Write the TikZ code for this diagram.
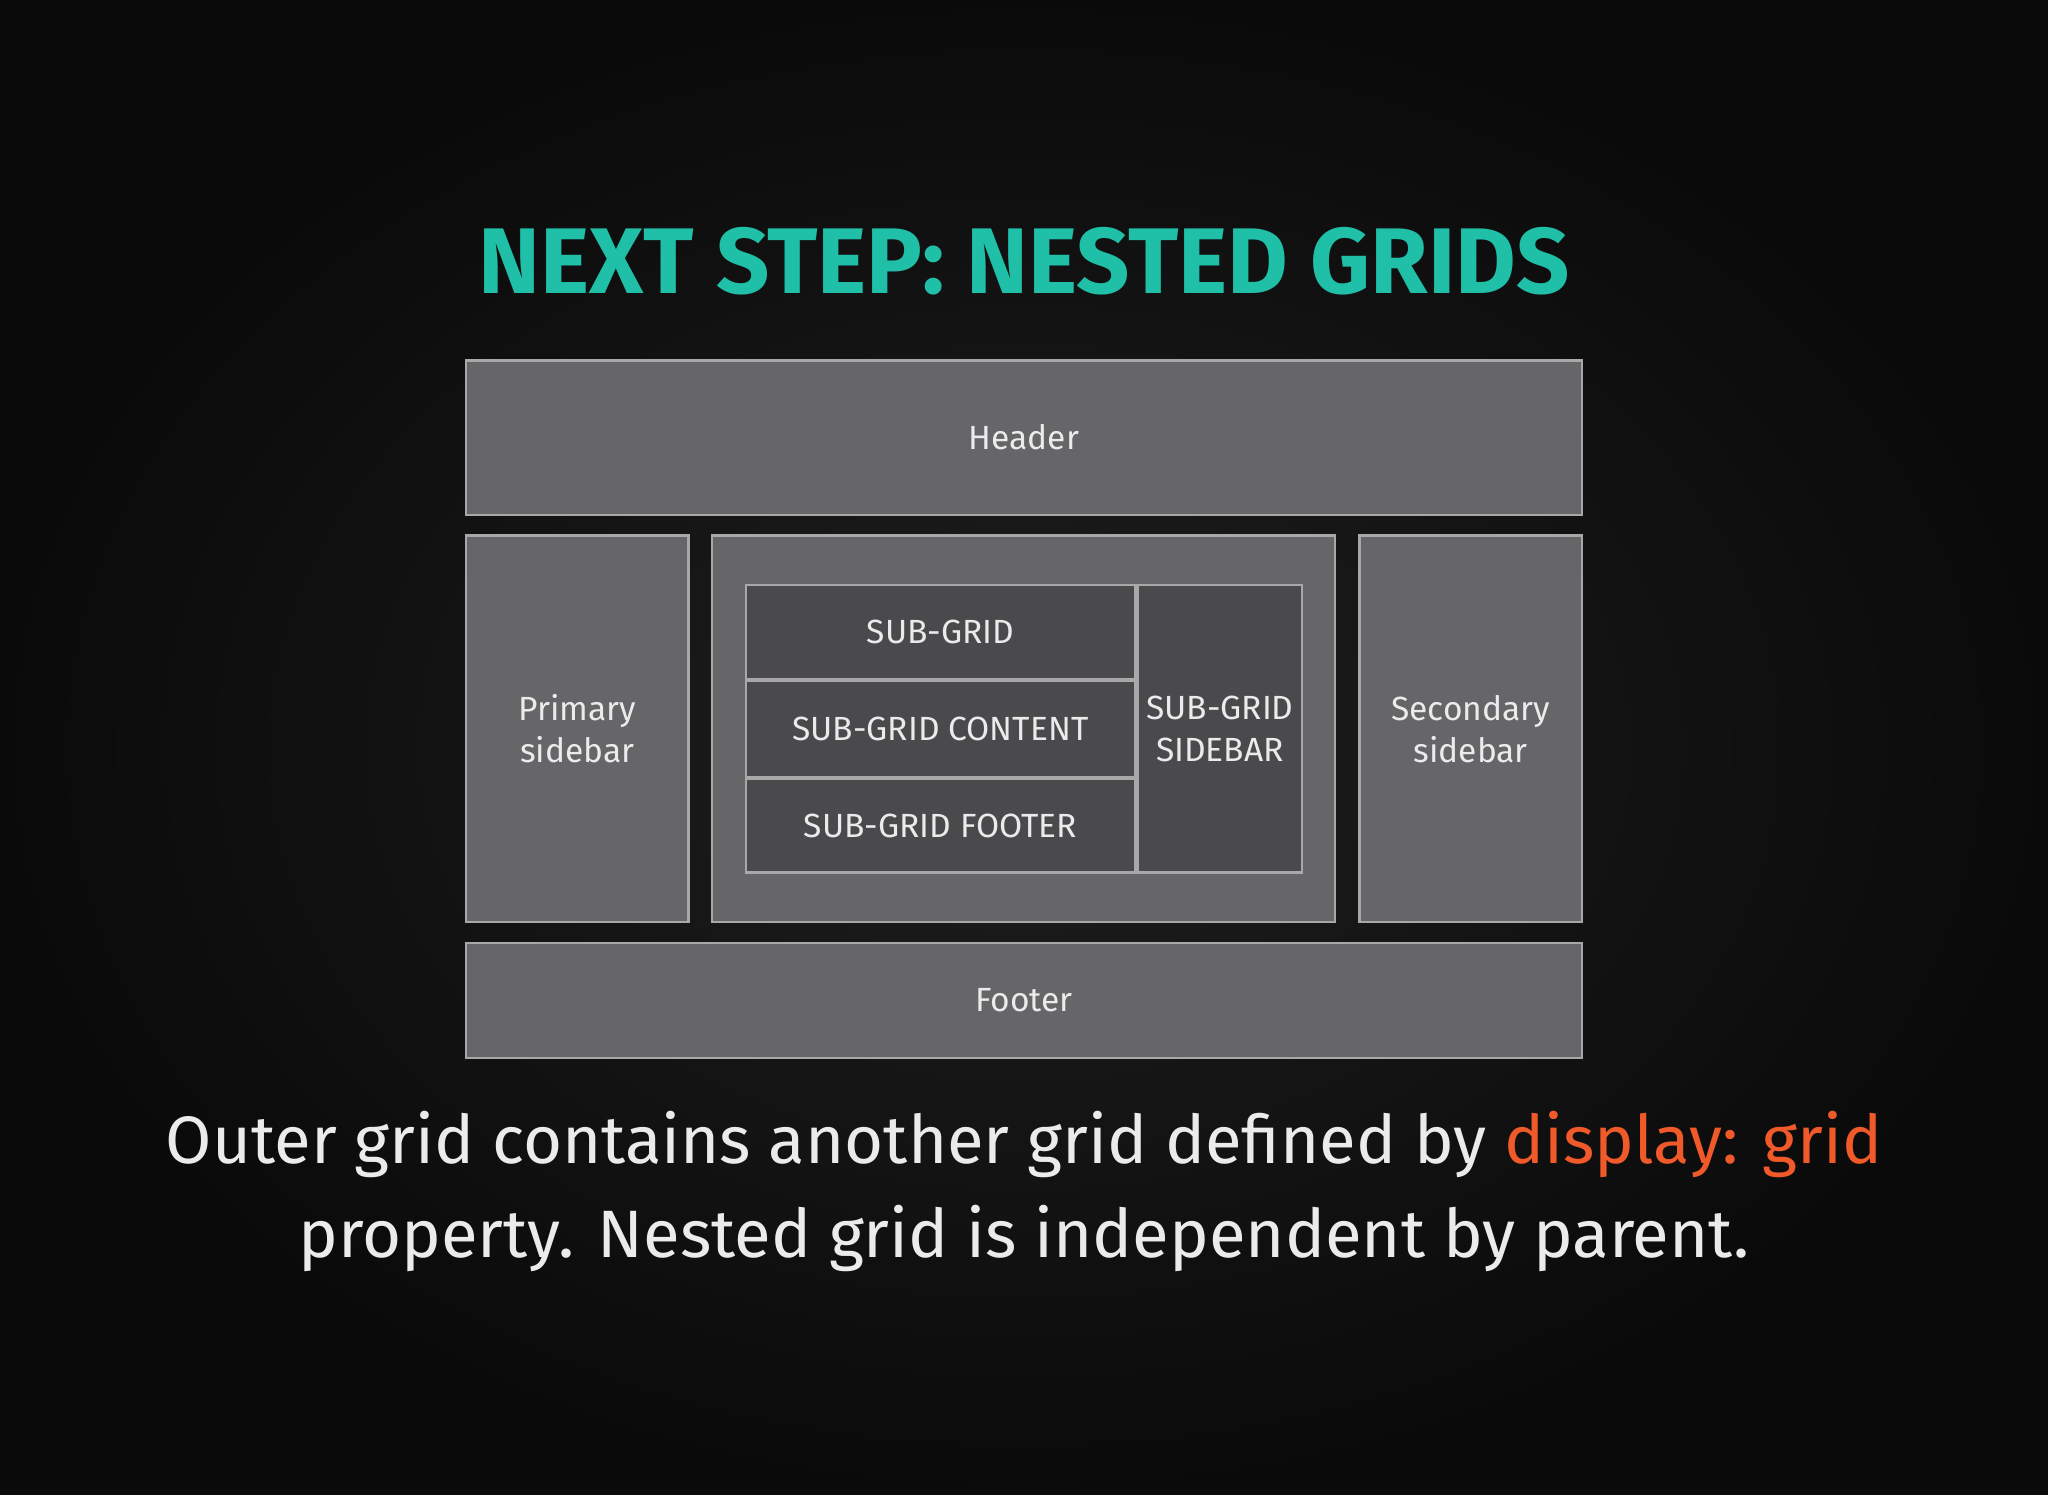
\documentclass[tikz,border=0pt]{standalone}
\usepackage{fontspec}
\setmainfont{Fira Sans}
\definecolor{teal1}{HTML}{1FBFA8}
\definecolor{orange1}{HTML}{F05A2A}
\definecolor{cellfill}{HTML}{666568}
\definecolor{subfill}{HTML}{4A494C}
\definecolor{cellline}{HTML}{A8A8A8}
\begin{document}
\begin{tikzpicture}[x=0.01cm,y=-0.01cm,
  cell/.style={draw=cellline, fill=cellfill, line width=0.5pt, text=white!92!black,
    font=\fontsize{7.3}{9.2}\selectfont, align=center, inner sep=0pt},
  subcell/.style={cell, fill=subfill}]
\shade[inner color=black!88, outer color=black!96] (0,0) rectangle (1568,1144);
\useasboundingbox (0,0) rectangle (1568,1144);

\node[text=teal1, font=\fontsize{20.3}{24}\selectfont\bfseries] (title) at (784,200) {NEXT STEP: NESTED GRIDS};

% outer grid
\node[cell, minimum width=8.54cm, minimum height=1.18cm] (header) at (784,335) {Header};
\node[cell, minimum width=1.70cm, minimum height=2.96cm] (primary) at (442,558) {Primary\\sidebar};
\node[cell, minimum width=4.77cm, minimum height=2.96cm] (main) at (783.5,558) {};
\node[cell, minimum width=1.70cm, minimum height=2.96cm] (secondary) at (1126,558) {Secondary\\sidebar};
\node[cell, minimum width=8.54cm, minimum height=0.88cm] (footer) at (784,766) {Footer};

% nested grid
\node[subcell, minimum width=2.98cm, minimum height=0.72cm] (sub) at (720,484) {SUB-GRID};
\node[subcell, minimum width=2.98cm, minimum height=0.74cm] (subcontent) at (720,558) {SUB-GRID CONTENT};
\node[subcell, minimum width=2.98cm, minimum height=0.72cm] (subfooter) at (720,632) {SUB-GRID FOOTER};
\node[subcell, minimum width=1.26cm, minimum height=2.20cm] (subside) at (934,558) {SUB-GRID\\SIDEBAR};

\node[text=white!92!black, font=\fontsize{14.6}{20.5}\selectfont, align=center] (caption) at (784,912)
  {Outer grid contains another grid defined by \textcolor{orange1}{display: grid}\\property. Nested grid is independent by parent.};
\end{tikzpicture}
\end{document}
